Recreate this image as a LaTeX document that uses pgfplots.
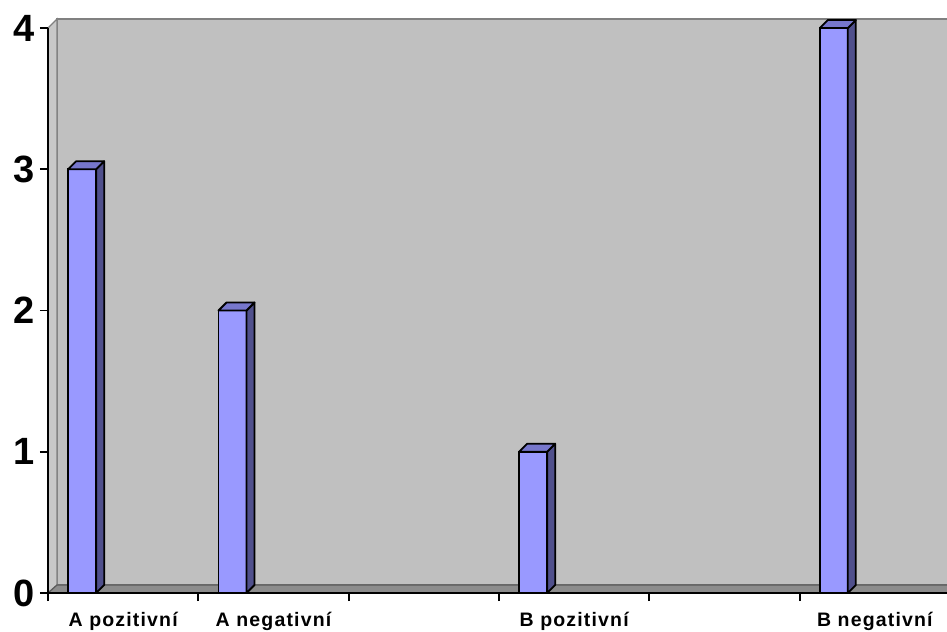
\documentclass[border=0pt]{standalone}
\usepackage{fontspec}
\setmainfont{Liberation Sans}
\newfontfamily\catfont[LetterSpace=6]{Liberation Sans}
\usepackage{pgfplots}
\pgfplotsset{compat=1.18}
\usetikzlibrary{calc}

\definecolor{wallgray}{HTML}{C0C0C0}
\definecolor{sidewall}{HTML}{C8C8C8}
\definecolor{wallline}{HTML}{808080}
\definecolor{floorgray}{HTML}{8C8C8C}
\definecolor{barfront}{HTML}{9999FF}
\definecolor{barside}{HTML}{50508C}
\definecolor{bartop}{HTML}{7777CC}

% one value per category, categories at 0..5 (2 and 4 are empty)
\pgfplotstableread{
x y
0 3
1 2
3 1
5 4
}\counts

\begin{document}
\begin{tikzpicture}
\begin{axis}[
  name=ax,
  scale only axis,
  width=902bp, height=565bp,
  xmin=-0.5, xmax=5.5,
  ymin=0, ymax=4,
  clip=false,
  axis on top,
  axis lines=left,
  axis line style={-, black, line width=1.8bp},
  tick style={black, line width=1.8bp},
  tick align=outside,
  major tick length=8bp,
  xtick={-0.5,0.5,...,5.5},
  x tick label as interval,
  xticklabels={A pozitivní, A negativní, {}, B pozitivní, {}, B negativní},
  xticklabel style={font=\catfont\fontsize{19.5bp}{19.5bp}\selectfont\bfseries, inner sep=0pt, anchor=north, yshift=-11bp},
  ytick={0,1,2,3,4},
  yticklabel style={font=\fontsize{38bp}{38bp}\selectfont\bfseries, inner sep=0pt, anchor=east, xshift=-5bp},
  /pgf/number format/assume math mode=true,
]
  % back wall, left wall and floor of the 3-D chart
  \filldraw[fill=wallgray, draw=wallline, line width=1.2bp]
    ($(axis cs:-0.5,0)+(9bp,8bp)$) rectangle ($(axis cs:5.5,4)+(9bp,9bp)$);
  \filldraw[fill=sidewall, draw=wallline, line width=1.2bp]
    (axis cs:-0.5,0) -- ++(9bp,8bp) -- ($(axis cs:-0.5,4)+(9bp,9bp)$) -- (axis cs:-0.5,4) -- cycle;
  \filldraw[fill=floorgray, draw=wallline!70!black, line width=1.2bp]
    (axis cs:-0.5,0) -- ++(9bp,8bp) -- ($(axis cs:5.5,0)+(9bp,8bp)$) -- (axis cs:5.5,0) -- cycle;

  \addplot[
    scatter, only marks, mark=none,
    visualization depends on={rawy \as \h},
    scatter/@pre marker code/.code={
      \pgfkeys{/pgf/fpu=false}%
      \pgfmathsetmacro\hh{\h*141.25}%
      \filldraw[fill=barfront, draw=black, line width=1.8bp]
        (-55bp,0bp) rectangle (-27bp,-\hh bp);
      \filldraw[fill=barside, draw=black, line width=1.8bp, line join=round]
        (-27bp,0bp) -- (-19bp,8bp) -- (-19bp,8bp-\hh bp) -- (-27bp,-\hh bp) -- cycle;
      \filldraw[fill=bartop, draw=black, line width=1.8bp, line join=round]
        (-55bp,0bp) -- (-47bp,8bp) -- (-19bp,8bp) -- (-27bp,0bp) -- cycle;
    },
    scatter/@post marker code/.code={},
  ] table[x=x, y=y] {\counts};
\end{axis}
\pgfresetboundingbox
\path[use as bounding box] ($(ax.south west)+(-48bp,-38bp)$) rectangle ($(ax.north east)+(-3bp,28bp)$);
\end{tikzpicture}
\end{document}
